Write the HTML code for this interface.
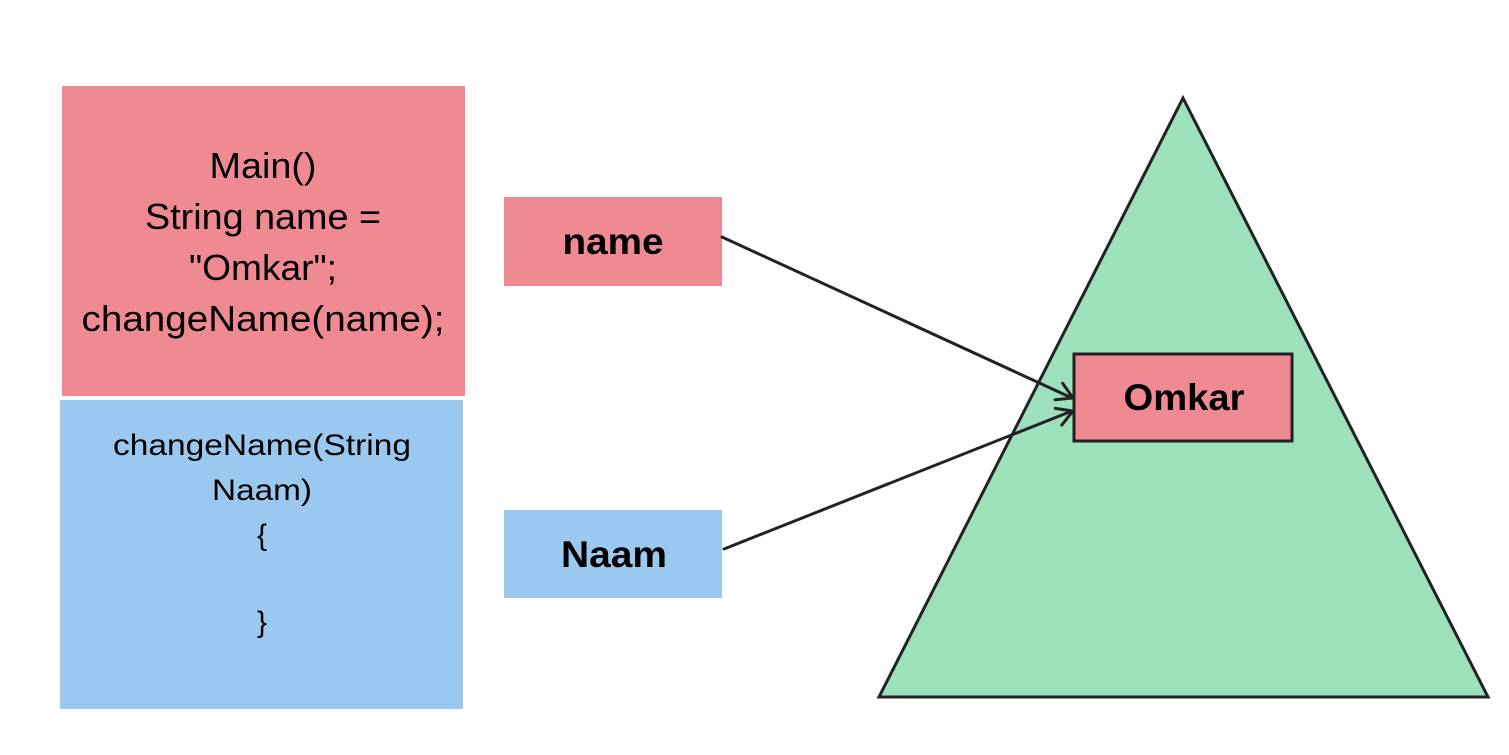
<!DOCTYPE html>
<html><head><meta charset="utf-8"><style>
html,body{margin:0;padding:0;background:#fff;}
body{width:1509px;height:755px;overflow:hidden;position:relative;font-family:"Liberation Sans",sans-serif;}
</style></head><body>
<svg width="1509" height="755" viewBox="0 0 1509 755" xmlns="http://www.w3.org/2000/svg" style="position:absolute;left:0;top:0">
<rect x="62" y="86" width="403" height="310" fill="#f08a92"/>
<rect x="60" y="400" width="403" height="309" fill="#9ac8ee"/>
<rect x="504" y="197" width="218" height="89" fill="#f08a92"/>
<rect x="504" y="510" width="218" height="88" fill="#9ac8ee"/>
<polygon points="1183,98 879,697 1488,697" fill="#9de0bc" stroke="#222" stroke-width="3" stroke-linejoin="miter"/>
<rect x="1074" y="354" width="218" height="87" fill="#f08a92" stroke="#222" stroke-width="3"/>
<g stroke="#222" stroke-width="3" fill="none" stroke-linecap="round" stroke-linejoin="round">
<line x1="722" y1="237" x2="1072" y2="398"/>
<polyline points="1062.6,383.3 1073,398 1055,399.7"/>
<line x1="724" y1="549" x2="1072" y2="411"/>
<polyline points="1055.2,408.4 1073,411 1061.8,425.1"/>
</g>
<g font-family="Liberation Sans, sans-serif" fill="#000" text-anchor="middle">
<text x="263" y="178" font-size="36" textLength="107" lengthAdjust="spacingAndGlyphs">Main()</text>
<text x="263" y="229" font-size="36" textLength="236" lengthAdjust="spacingAndGlyphs">String name =</text>
<text x="263" y="280" font-size="36" textLength="148" lengthAdjust="spacingAndGlyphs">"Omkar";</text>
<text x="263" y="331" font-size="36" textLength="363" lengthAdjust="spacingAndGlyphs">changeName(name);</text>
<text x="262" y="455" font-size="30" textLength="298" lengthAdjust="spacingAndGlyphs">changeName(String</text>
<text x="262" y="500" font-size="30" textLength="100" lengthAdjust="spacingAndGlyphs">Naam)</text>
<text x="262" y="545" font-size="30">{</text>
<text x="262" y="632" font-size="30">}</text>
<text x="613" y="254" font-size="37" font-weight="bold" textLength="101" lengthAdjust="spacingAndGlyphs">name</text>
<text x="614" y="567" font-size="37" font-weight="bold" textLength="106" lengthAdjust="spacingAndGlyphs">Naam</text>
<text x="1184" y="410" font-size="37" font-weight="bold" textLength="121" lengthAdjust="spacingAndGlyphs">Omkar</text>
</g>
</svg>
</body></html>
